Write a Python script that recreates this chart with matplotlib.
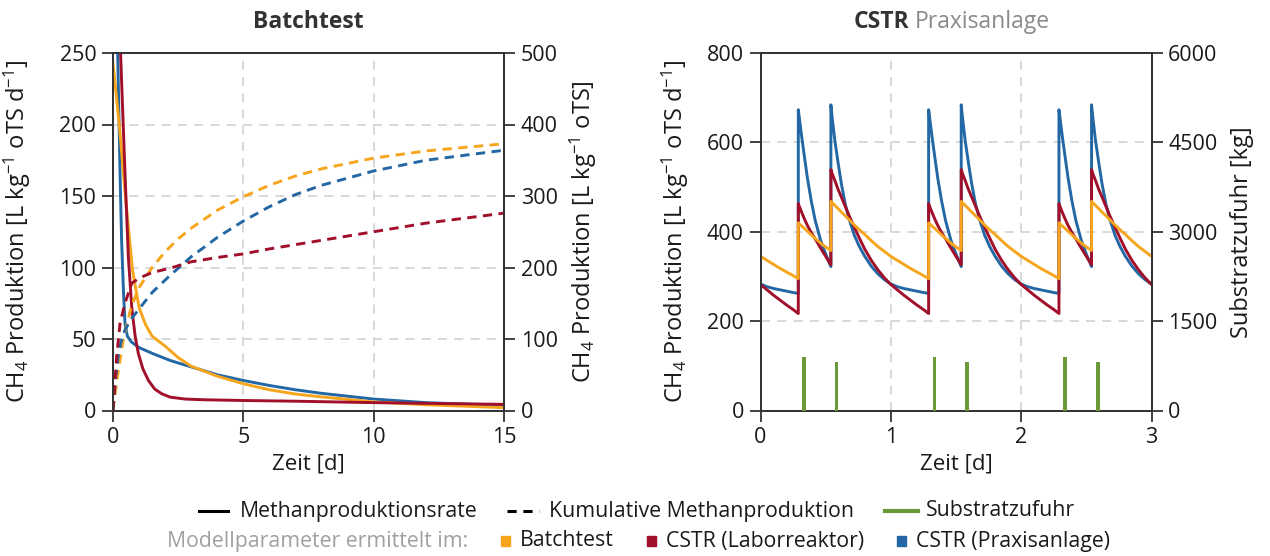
import matplotlib
matplotlib.use("Agg")
import matplotlib.pyplot as plt
from matplotlib.lines import Line2D
from matplotlib.patches import Rectangle

FONT = 'Open Sans'
plt.rcParams['font.family'] = [FONT, 'DejaVu Sans']
plt.rcParams['mathtext.fontset'] = 'custom'
plt.rcParams['mathtext.rm'] = FONT
plt.rcParams['mathtext.it'] = FONT
plt.rcParams['mathtext.default'] = 'regular'

# ---------------- Data: Batchtest (left) ----------------
# methane production rate [L/(kg oTS d)]
bt_rate_orange_t = [0, 0.25, 0.5, 0.75, 1.0, 1.25, 1.5, 2.0, 2.5, 3.0, 4, 5, 6, 7, 8, 10, 12, 15]
bt_rate_orange_v = [243, 198, 145, 98, 72, 60, 52, 45, 37, 31, 24, 18.7, 14.5, 11.5, 9.5, 6, 4, 2]

bt_rate_blue_t = [0, 0.1, 0.18, 0.27, 0.33, 0.4, 0.46, 0.55, 0.7, 1.0, 1.5, 2.19, 3, 4, 5, 6, 7, 8, 10, 12, 15]
bt_rate_blue_v = [600, 380, 250, 166, 119, 84, 61, 52, 48, 44, 40, 35, 30.5, 25, 21, 17.5, 14.5, 12, 8, 5.5, 3.5]

bt_rate_red_t = [0, 0.15, 0.29, 0.46, 0.59, 0.72, 0.85, 0.97, 1.15, 1.36, 1.6, 1.87, 2.2, 2.77, 3.5, 5, 7, 10, 12, 15]
bt_rate_red_v = [900, 500, 250, 166, 107, 72, 52, 40, 29, 21, 15, 11.7, 9.3, 8, 7.5, 7, 6.5, 5.5, 5, 4.3]

# cumulative methane production [L/kg oTS]
bt_cum_orange_t = [0, 0.2, 0.4, 0.7, 1.0, 1.5, 2.0, 2.5, 3.0, 4, 5, 6, 7, 8, 10, 12, 15]
bt_cum_orange_v = [0, 55, 100, 145, 172, 200, 222, 240, 255, 280, 299, 315, 328, 338, 353, 363, 373]

bt_cum_blue_t = [0, 0.1, 0.2, 0.3, 0.45, 0.7, 1.0, 1.5, 2.19, 3, 4, 5, 6, 7, 8, 10, 12, 15]
bt_cum_blue_v = [0, 45, 75, 95, 112, 128, 142, 165, 189, 215, 242, 265, 285, 302, 315, 335, 350, 364]

bt_cum_red_t = [0, 0.14, 0.27, 0.46, 0.72, 1.0, 1.5, 2.19, 3, 4, 5, 6, 7, 8, 10, 12, 15]
bt_cum_red_v = [0, 75, 122, 150, 178, 185, 193, 199, 208, 214, 219, 226, 232, 238, 250, 262, 276]

# ---------------- Data: CSTR Praxisanlage (right) ----------------
cstr_t = [
    0.00, 0.05, 0.10, 0.15, 0.20, 0.25, 0.29, 0.29, 0.30, 0.315, 0.335, 0.36, 0.39, 0.42, 0.46, 0.50, 0.54,
    0.54, 0.55, 0.57, 0.595, 0.62, 0.65, 0.68, 0.72, 0.76, 0.80, 0.85, 0.90, 0.95,
    1.00, 1.05, 1.10, 1.15, 1.20, 1.25, 1.29, 1.29, 1.30, 1.315, 1.335, 1.36, 1.39, 1.42, 1.46, 1.50, 1.54,
    1.54, 1.55, 1.57, 1.595, 1.62, 1.65, 1.68, 1.72, 1.76, 1.80, 1.85, 1.90, 1.95,
    2.00, 2.05, 2.10, 2.15, 2.20, 2.25, 2.29, 2.29, 2.30, 2.315, 2.335, 2.36, 2.39, 2.42, 2.46, 2.50, 2.54,
    2.54, 2.55, 2.57, 2.595, 2.62, 2.65, 2.68, 2.72, 2.76, 2.80, 2.85, 2.90, 2.95,
    3.00]

cstr_blue = [
    283, 277, 273, 270, 267, 264, 262, 673, 650, 615, 572, 520, 468, 425, 382, 350, 322,
    684, 655, 605, 555, 508, 462, 428, 392, 366, 345, 323, 306, 293,
    283, 277, 273, 270, 267, 264, 262, 673, 650, 615, 572, 520, 468, 425, 382, 350, 322,
    684, 655, 605, 555, 508, 462, 428, 392, 366, 345, 323, 306, 293,
    283, 277, 273, 270, 267, 264, 262, 673, 650, 615, 572, 520, 468, 425, 382, 350, 322,
    684, 655, 605, 555, 508, 462, 428, 392, 366, 345, 323, 306, 293,
    283]

cstr_red = [
    282, 270, 258, 247, 236, 226, 217, 463, 455, 444, 430, 414, 398, 384, 364, 345, 326,
    539, 530, 515, 495, 478, 457, 436, 410, 385, 361, 336, 315, 297,
    282, 270, 258, 247, 236, 226, 217, 463, 455, 444, 430, 414, 398, 384, 364, 345, 326,
    539, 530, 515, 495, 478, 457, 436, 410, 385, 361, 336, 315, 297,
    282, 270, 258, 247, 236, 226, 217, 463, 455, 444, 430, 414, 398, 384, 364, 345, 326,
    539, 530, 515, 495, 478, 457, 436, 410, 385, 361, 336, 315, 297,
    282]

cstr_orange = [
    345, 336, 327, 318, 310, 302, 295, 420, 417, 413, 408, 401, 393, 385, 375, 366, 358,
    468, 465, 459, 452, 444, 436, 427, 415, 404, 394, 380, 367, 356,
    345, 336, 327, 318, 310, 302, 295, 420, 417, 413, 408, 401, 393, 385, 375, 366, 358,
    468, 465, 459, 452, 444, 436, 427, 415, 404, 394, 380, 367, 356,
    345, 336, 327, 318, 310, 302, 295, 420, 417, 413, 408, 401, 393, 385, 375, 366, 358,
    468, 465, 459, 452, 444, 436, 427, 415, 404, 394, 380, 367, 356,
    345]

feed_t = [0.333, 0.583, 1.335, 1.585, 2.337, 2.587]
feed_kg = [905, 807, 905, 807, 905, 807]

# ---------------- Styles ----------------
C_ORANGE = '#F7A51C'
C_RED = '#A10F2B'
C_BLUE = '#2367A5'
C_GREEN = '#6A9A38'
C_SPINE = '#333333'
C_GRID = '#d6d6d6'
TXT = '#1a1a1a'
FS_TICK = 15.5
FS_LAB = 16
FS_TITLE = 16.5
FS_YLAB = 17
FS_LEG = 15.3

W, H = 1270, 556
fig = plt.figure(figsize=(W / 100, H / 100), dpi=100)

def fx(px):
    return px / W

def fy(py):
    return 1 - py / H

AX_W = 391.0
ax_l = fig.add_axes([fx(113), fy(410.5), fx(AX_W), 357.5 / H])
ax_r = fig.add_axes([fx(760.5), fy(410.5), fx(AX_W), 357.5 / H])


def style(ax):
    for s in ax.spines.values():
        s.set_color(C_SPINE)
        s.set_linewidth(1.3)
    ax.tick_params(direction='out', length=8, width=1.3, color=C_SPINE,
                   labelsize=FS_TICK, labelcolor=TXT, pad=4)


dash = (0, (3.2, 2.2))
lw = 2.1

# ---- left panel
ax_l.plot(bt_rate_blue_t, bt_rate_blue_v, color=C_BLUE, lw=lw, zorder=3)
ax_l.plot(bt_rate_orange_t, bt_rate_orange_v, color=C_ORANGE, lw=lw, zorder=4)
ax_l.plot(bt_rate_red_t, bt_rate_red_v, color=C_RED, lw=lw, zorder=5)
ax_l.set_xlim(0, 15)
ax_l.set_ylim(0, 250)
ax_l.set_xticks([0, 5, 10, 15])
ax_l.set_yticks([0, 50, 100, 150, 200, 250])
ax_l.grid(True, color=C_GRID, ls=(0, (5, 4)), lw=1.3, zorder=0)
ax_l.set_axisbelow(True)
style(ax_l)
ax_l.set_xlabel('Zeit [d]', fontsize=FS_LAB, color=TXT, labelpad=4)
ax_l.set_ylabel('CH$_4$ Produktion [L kg$^{-1}$ oTS d$^{-1}$]', fontsize=FS_YLAB, color=TXT)
ax_l.yaxis.set_label_coords((33 - 113) / AX_W, 0.5)

ax_l2 = ax_l.twinx()
ax_l2.plot(bt_cum_orange_t, bt_cum_orange_v, color=C_ORANGE, lw=lw, ls=dash)
ax_l2.plot(bt_cum_blue_t, bt_cum_blue_v, color=C_BLUE, lw=lw, ls=dash)
ax_l2.plot(bt_cum_red_t, bt_cum_red_v, color=C_RED, lw=lw, ls=dash)
ax_l2.set_ylim(0, 500)
ax_l2.set_yticks([0, 100, 200, 300, 400, 500])
style(ax_l2)
ax_l2.set_ylabel('CH$_4$ Produktion [L kg$^{-1}$ oTS]', fontsize=FS_YLAB, color=TXT)
ax_l2.yaxis.set_label_coords((568 - 113) / AX_W, 0.5)

# ---- right panel
ax_r.plot(cstr_t, cstr_blue, color=C_BLUE, lw=lw, zorder=3)
ax_r.plot(cstr_t, cstr_red, color=C_RED, lw=lw, zorder=4)
ax_r.plot(cstr_t, cstr_orange, color=C_ORANGE, lw=lw, zorder=5)
ax_r.set_xlim(0, 3)
ax_r.set_ylim(0, 800)
ax_r.set_xticks([0, 1, 2, 3])
ax_r.set_yticks([0, 200, 400, 600, 800])
ax_r.grid(True, color=C_GRID, ls=(0, (5, 4)), lw=1.3, zorder=0)
ax_r.set_axisbelow(True)
style(ax_r)
ax_r.set_xlabel('Zeit [d]', fontsize=FS_LAB, color=TXT, labelpad=4)
ax_r.set_ylabel('CH$_4$ Produktion [L kg$^{-1}$ oTS d$^{-1}$]', fontsize=FS_YLAB, color=TXT)
ax_r.yaxis.set_label_coords((691 - 760.5) / AX_W, 0.5)

ax_r2 = ax_r.twinx()
ax_r2.bar(feed_t, feed_kg, width=0.03, color=C_GREEN, zorder=3)
ax_r2.set_ylim(0, 6000)
ax_r2.set_yticks([0, 1500, 3000, 4500, 6000])
style(ax_r2)
ax_r2.set_ylabel('Substratzufuhr [kg]', fontsize=FS_YLAB, color=TXT)
ax_r2.yaxis.set_label_coords((1230 - 760.5) / AX_W, 0.5)

# ---- titles
fig.text(fx(308.5), fy(22), 'Batchtest', fontsize=FS_TITLE, fontweight='bold', color='#333333',
         ha='center', va='center')
fig.text(fx(909), fy(22), 'CSTR', fontsize=FS_TITLE, fontweight='bold', color='#333333',
         ha='right', va='center')
fig.text(fx(915), fy(22), 'Praxisanlage', fontsize=FS_TITLE, color='#8a8a8a',
         ha='left', va='center')

# ---- legend rows (manual)
y1 = fy(511)
fig.add_artist(Line2D([fx(199), fx(228)], [y1, y1], color='black', lw=2.2, transform=fig.transFigure))
fig.text(fx(240), y1, 'Methanproduktionsrate', fontsize=FS_LEG, color=TXT, ha='left', va='center')
fig.add_artist(Line2D([fx(507), fx(539)], [y1, y1], color='black', lw=2.2, ls=(0, (3, 2.2)),
                      transform=fig.transFigure))
fig.text(fx(549), y1, 'Kumulative Methanproduktion', fontsize=FS_LEG, color=TXT, ha='left', va='center')
fig.add_artist(Line2D([fx(885), fx(918)], [y1, y1], color=C_GREEN, lw=3, transform=fig.transFigure))
fig.text(fx(926), y1, 'Substratzufuhr', fontsize=FS_LEG, color=TXT, ha='left', va='center')

y2 = fy(541)
fig.text(fx(167), y2, 'Modellparameter ermittelt im:', fontsize=FS_LEG, color='#a0a0a0', ha='left', va='center')
for x0, col, lab in [(501, C_ORANGE, 'Batchtest'), (647, C_RED, 'CSTR (Laborreaktor)'),
                     (897, C_BLUE, 'CSTR (Praxisanlage)')]:
    fig.add_artist(Rectangle((fx(x0), fy(546)), fx(9), 10 / H, color=col, transform=fig.transFigure))
    fig.text(fx(x0 + 19), y2, lab, fontsize=FS_LEG, color=TXT, ha='left', va='center')

fig.savefig('out.png', dpi=100)
